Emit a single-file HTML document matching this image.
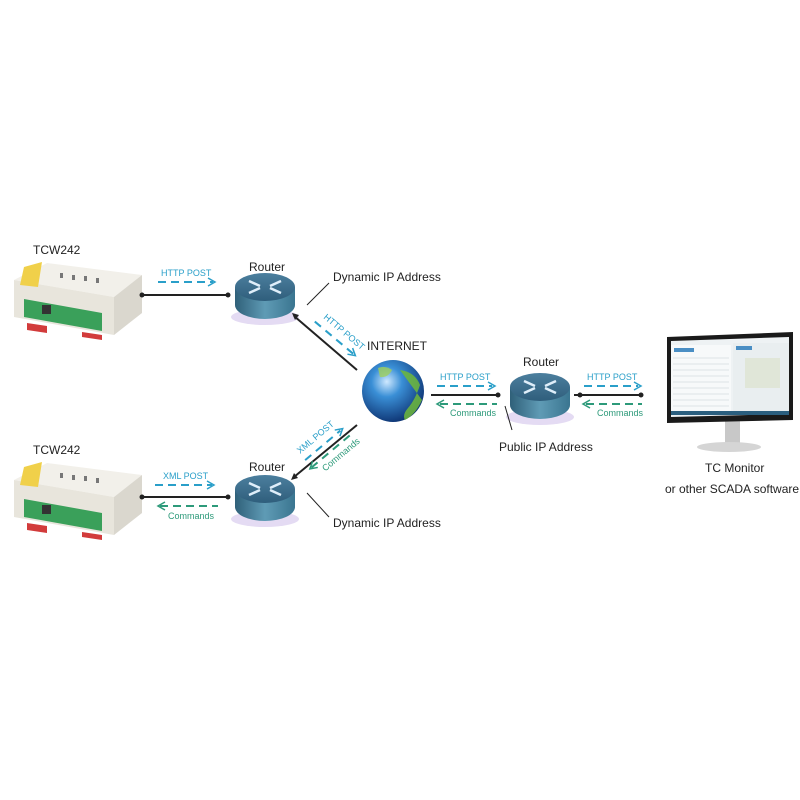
<!DOCTYPE html>
<html><head><meta charset="utf-8"><style>
html,body{margin:0;padding:0;background:#fff;}
svg{display:block;}
text{font-family:"Liberation Sans",sans-serif;}
.lbl{font-size:12px;fill:#222;}
.sm{font-size:9px;}
.b{fill:#2a9fc9;}
.g{fill:#2d9a7a;}
</style></head><body>
<svg width="800" height="800" viewBox="0 0 800 800" xmlns="http://www.w3.org/2000/svg">
<defs>
<radialGradient id="glb" cx="0.4" cy="0.35" r="0.7">
<stop offset="0" stop-color="#cfe9ff"/><stop offset="0.35" stop-color="#3a8fd6"/><stop offset="1" stop-color="#0b2f6e"/>
</radialGradient>
<linearGradient id="rtop" x1="0" y1="0" x2="0" y2="1"><stop offset="0" stop-color="#4c7f9e"/><stop offset="1" stop-color="#2f5e7c"/></linearGradient>
<linearGradient id="rside" x1="0" y1="0" x2="1" y2="0"><stop offset="0" stop-color="#2f6079"/><stop offset="0.5" stop-color="#5f9bb5"/><stop offset="1" stop-color="#3a7590"/></linearGradient>
<g id="router">
<ellipse cx="0" cy="22" rx="34" ry="8" fill="#c9b8e8" opacity="0.5"/>
<path d="M-30,-8 L-30,10 A30,14 0 0 0 30,10 L30,-8 Z" fill="url(#rside)"/>
<ellipse cx="0" cy="-8" rx="30" ry="14" fill="url(#rtop)"/>
<g stroke="#dfeefa" stroke-width="2.5" fill="none">
<path d="M-16,-14 L-5,-9"/><path d="M16,-14 L5,-9"/><path d="M-16,-2 L-5,-7"/><path d="M16,-2 L5,-7"/>
</g>
</g>
<g id="dev">
<polygon points="12,25 45,8 140,20 112,42" fill="#f2f0ea"/>
<polygon points="12,25 112,42 112,80 12,62" fill="#e8e5dc"/>
<polygon points="112,42 140,20 140,58 112,80" fill="#dad7ce"/>
<polygon points="22,12 40,7 36,32 18,30" fill="#f0d04a"/>
<g fill="#777"><rect x="58" y="18" width="3" height="5"/><rect x="70" y="20" width="3" height="5"/><rect x="82" y="21" width="3" height="5"/><rect x="94" y="23" width="3" height="5"/></g>
<polygon points="22,44 100,58 100,76 22,62" fill="#3aa05a"/>
<rect x="40" y="50" width="9" height="9" fill="#333"/>
<polygon points="25,68 45,71 45,78 25,75" fill="#d23b3b"/>
<polygon points="80,77 100,80 100,85 80,82" fill="#d23b3b"/>
</g>
<g id="dot"><circle r="2.5" fill="#222"/></g>
</defs>

<text x="33" y="254" class="lbl">TCW242</text>
<text x="33" y="454" class="lbl">TCW242</text>
<use href="#dev" x="2" y="255"/>
<use href="#dev" x="2" y="455"/>

<line x1="142" y1="295" x2="228" y2="295" stroke="#222" stroke-width="2"/>
<use href="#dot" x="142" y="295"/><use href="#dot" x="228" y="295"/>
<text x="161" y="276" class="sm b">HTTP POST</text>
<line x1="158" y1="282" x2="213" y2="282" stroke="#2a9fc9" stroke-width="2" stroke-dasharray="8,5"/>
<path d="M208,278 L215,282 L208,286" fill="none" stroke="#2a9fc9" stroke-width="1.5"/>

<use href="#router" x="265" y="295"/>
<text x="249" y="271" class="lbl">Router</text>
<text x="333" y="281" class="lbl">Dynamic IP Address</text>
<line x1="307" y1="305" x2="329" y2="283" stroke="#222" stroke-width="1"/>

<line x1="294" y1="316" x2="357" y2="370" stroke="#222" stroke-width="2"/>
<path d="M292,313 L299,315 L295,320 Z" fill="#222"/>
<g transform="translate(323,318) rotate(40)">
<text x="0" y="0" class="sm b">HTTP POST</text>
<line x1="-4" y1="8" x2="46" y2="8" stroke="#2a9fc9" stroke-width="2" stroke-dasharray="8,6"/>
<path d="M42,4 L49,8 L42,12" fill="none" stroke="#2a9fc9" stroke-width="1.5"/>
</g>
<text x="367" y="350" class="lbl">INTERNET</text>

<circle cx="393" cy="391" r="31" fill="url(#glb)"/>
<path d="M400,370 Q415,372 420,385 Q415,400 408,408 Q402,415 405,420 Q415,415 422,400" fill="#6fb83a" opacity="0.85"/>
<path d="M378,368 Q385,365 392,370 Q388,378 380,377 Z" fill="#9fcf5a" opacity="0.8"/>

<line x1="357" y1="425" x2="294" y2="477" stroke="#222" stroke-width="2"/>
<path d="M291,480 L298,478 L294,473 Z" fill="#222"/>
<g transform="translate(300,454) rotate(-40)">
<text x="0" y="0" class="sm b">XML POST</text>
<line x1="0" y1="8" x2="46" y2="8" stroke="#2a9fc9" stroke-width="2" stroke-dasharray="8,6"/>
<path d="M42,4 L49,8 L42,12" fill="none" stroke="#2a9fc9" stroke-width="1.5"/>
</g>
<g transform="translate(315,475) rotate(-40)">
<line x1="2" y1="-8" x2="52" y2="-8" stroke="#2d9a7a" stroke-width="2" stroke-dasharray="8,6"/>
<path d="M7,-12 L0,-8 L7,-4" fill="none" stroke="#2d9a7a" stroke-width="1.5"/>
<text x="10" y="4" class="sm g">Commands</text>
</g>

<line x1="142" y1="497" x2="228" y2="497" stroke="#222" stroke-width="2"/>
<use href="#dot" x="142" y="497"/><use href="#dot" x="228" y="497"/>
<text x="163" y="479" class="sm b">XML POST</text>
<line x1="155" y1="485" x2="212" y2="485" stroke="#2a9fc9" stroke-width="2" stroke-dasharray="8,5"/>
<path d="M207,481 L214,485 L207,489" fill="none" stroke="#2a9fc9" stroke-width="1.5"/>
<line x1="160" y1="506" x2="218" y2="506" stroke="#2d9a7a" stroke-width="2" stroke-dasharray="8,5"/>
<path d="M165,502 L158,506 L165,510" fill="none" stroke="#2d9a7a" stroke-width="1.5"/>
<text x="168" y="519" class="sm g">Commands</text>

<use href="#router" x="265" y="497"/>
<text x="249" y="471" class="lbl">Router</text>
<text x="333" y="527" class="lbl">Dynamic IP Address</text>
<line x1="307" y1="493" x2="329" y2="517" stroke="#222" stroke-width="1"/>

<line x1="431" y1="395" x2="498" y2="395" stroke="#222" stroke-width="2"/>
<use href="#dot" x="498" y="395"/>
<text x="440" y="380" class="sm b">HTTP POST</text>
<line x1="437" y1="386" x2="492" y2="386" stroke="#2a9fc9" stroke-width="2" stroke-dasharray="8,5"/>
<path d="M488,382 L495,386 L488,390" fill="none" stroke="#2a9fc9" stroke-width="1.5"/>
<line x1="440" y1="404" x2="497" y2="404" stroke="#2d9a7a" stroke-width="2" stroke-dasharray="8,5"/>
<path d="M444,400 L437,404 L444,408" fill="none" stroke="#2d9a7a" stroke-width="1.5"/>
<text x="450" y="416" class="sm g">Commands</text>

<use href="#router" x="540" y="395"/>
<text x="523" y="366" class="lbl">Router</text>
<line x1="505" y1="406" x2="512" y2="430" stroke="#222" stroke-width="1"/>
<text x="499" y="451" class="lbl">Public IP Address</text>

<line x1="574" y1="395" x2="641" y2="395" stroke="#222" stroke-width="2"/>
<use href="#dot" x="580" y="395"/><use href="#dot" x="641" y="395"/>
<text x="587" y="380" class="sm b">HTTP POST</text>
<line x1="584" y1="386" x2="638" y2="386" stroke="#2a9fc9" stroke-width="2" stroke-dasharray="8,5"/>
<path d="M634,382 L641,386 L634,390" fill="none" stroke="#2a9fc9" stroke-width="1.5"/>
<line x1="586" y1="404" x2="642" y2="404" stroke="#2d9a7a" stroke-width="2" stroke-dasharray="8,5"/>
<path d="M590,400 L583,404 L590,408" fill="none" stroke="#2d9a7a" stroke-width="1.5"/>
<text x="597" y="416" class="sm g">Commands</text>

<polygon points="725,421 740,421 740,444 725,444" fill="#c8c8c8"/>
<ellipse cx="729" cy="447" rx="32" ry="5" fill="#d5d5d5"/>
<polygon points="667,337 793,332 793,420 667,423" fill="#1a1a1a"/>
<polygon points="671,341 789,337 789,414 671,417" fill="#eef2f4"/>
<rect x="671" y="345" width="60" height="68" fill="#f7f9fa"/>
<rect x="733" y="343" width="56" height="68" fill="#e9eef0"/>
<rect x="674" y="348" width="20" height="4" fill="#4a8ec4"/>
<rect x="736" y="346" width="16" height="4" fill="#4a8ec4"/>
<g stroke="#c5ccd2" stroke-width="0.6">
<line x1="673" y1="358" x2="729" y2="358"/><line x1="673" y1="364" x2="729" y2="364"/><line x1="673" y1="370" x2="729" y2="370"/><line x1="673" y1="376" x2="729" y2="376"/><line x1="673" y1="382" x2="729" y2="382"/><line x1="673" y1="388" x2="729" y2="388"/><line x1="673" y1="394" x2="729" y2="394"/><line x1="673" y1="400" x2="729" y2="400"/><line x1="673" y1="406" x2="729" y2="406"/>
</g>
<rect x="745" y="358" width="35" height="30" fill="#e0e6d8"/>
<rect x="671" y="411" width="118" height="4" fill="#2b5f7f"/>
<text x="705" y="472" class="lbl">TC Monitor</text>
<text x="665" y="493" class="lbl">or other SCADA software</text>
</svg>
</body></html>
